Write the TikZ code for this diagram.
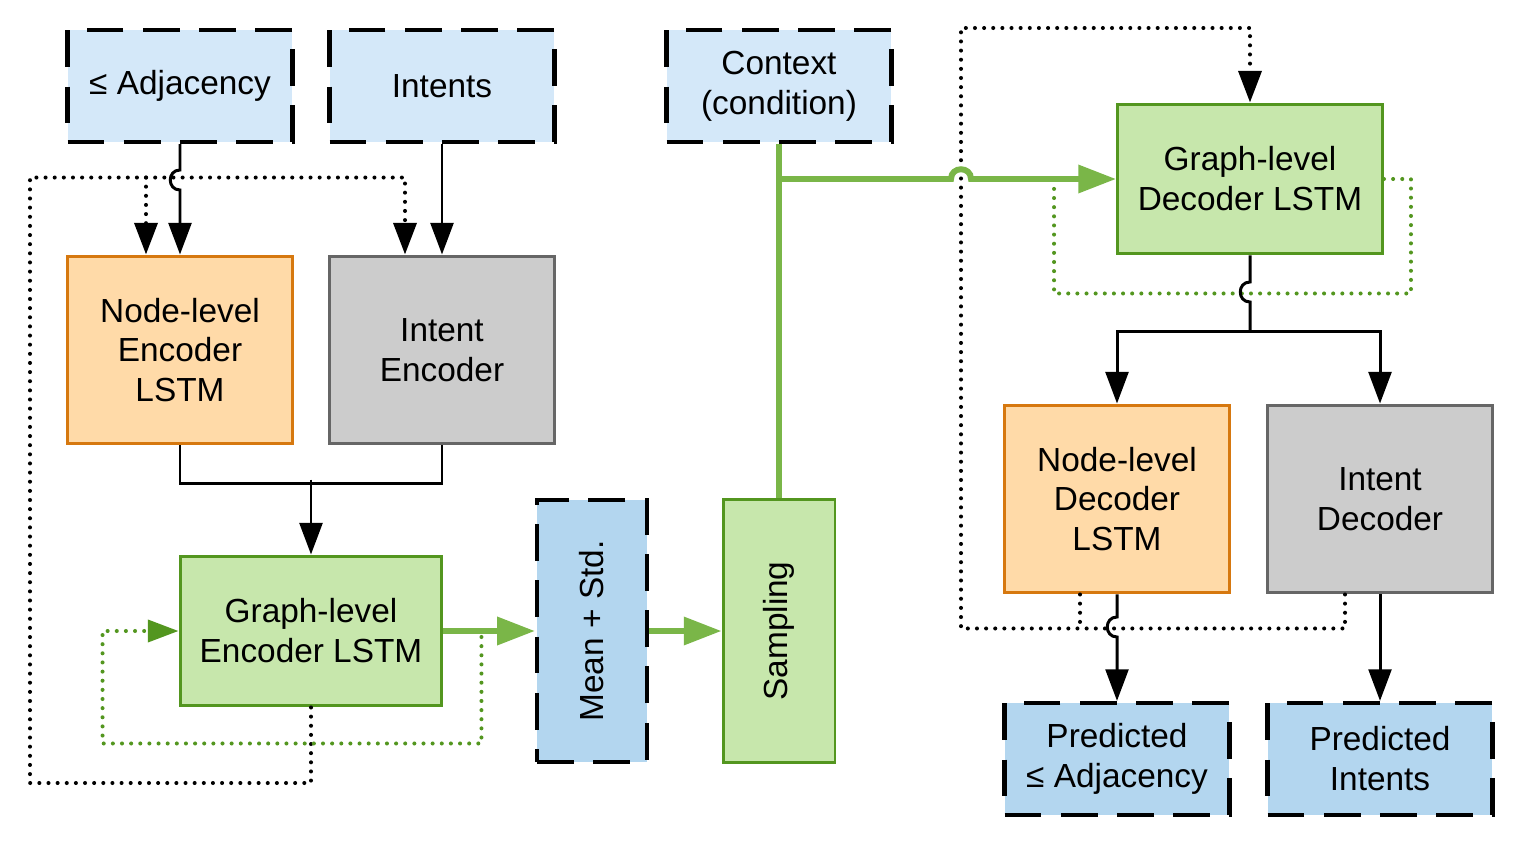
\documentclass[tikz,border=0pt]{standalone}
\usepackage{fontspec}
\setmainfont{Liberation Sans}
\usetikzlibrary{arrows.meta,calc}

\definecolor{inblue}{HTML}{D4E8F9}
\definecolor{outblue}{HTML}{B3D6EF}
\definecolor{orfill}{HTML}{FFDAA8}
\definecolor{ordraw}{HTML}{D6780F}
\definecolor{gyfill}{HTML}{CCCCCC}
\definecolor{gydraw}{HTML}{666666}
\definecolor{grfill}{HTML}{C7E7AC}
\definecolor{grdraw}{HTML}{53961F}
\definecolor{grline}{HTML}{7AB648}

\begin{document}
\begin{tikzpicture}[
  x=0.02cm, y=-0.02cm,
  every node/.style={font=\fontsize{19}{22.7}\selectfont, align=center, inner sep=2pt},
  box/.style={rectangle, line width=1.7pt, minimum width=4.5cm, minimum height=2.24cm},
  inbox/.style={box, draw=black, fill=inblue, line width=2.4pt, dash pattern=on 21pt off 11pt},
  outbox/.style={inbox, fill=outblue},
  orbox/.style={box, draw=ordraw, fill=orfill, minimum height=3.76cm},
  gybox/.style={box, draw=gydraw, fill=gyfill, minimum height=3.76cm},
  grbox/.style={box, draw=grdraw, fill=grfill, minimum width=5.3cm, minimum height=3cm},
  kline/.style={line width=1.7pt, -{Triangle[width=13pt,length=18pt]}},
  kdot/.style={line width=2.3pt, line cap=round, dash pattern=on 0pt off 5.2pt,
    -{Triangle[width=13pt,length=18pt]}},
  gdot/.style={draw=grdraw, line width=2.3pt, line cap=round, dash pattern=on 0pt off 5.2pt,
    -{Triangle[width=12.5pt,length=17.5pt, fill=grdraw]}},
  garrow/.style={draw=grline, line width=3.4pt, -{Triangle[width=15.5pt,length=21.5pt]}},
  vhop/.style={insert path={-- ($(#1)+(0,-10)$) .. controls ($(#1)+(-13,-10)$) and ($(#1)+(-13,10)$) .. ($(#1)+(0,10)$)}},
  hhop/.style={insert path={-- ($(#1)+(-10,0)$) .. controls ($(#1)+(-10,-13)$) and ($(#1)+(10,-13)$) .. ($(#1)+(10,0)$)}}
]
  \useasboundingbox (0,0) rectangle (1528,848);

  %--- inputs
  \node[inbox] (adj) at (180,86)  {≤ Adjacency};
  \node[inbox] (int) at (442,86)  {Intents};
  \node[inbox] (ctx) at (779,86)  {Context\\(condition)};

  %--- encoder
  \node[orbox] (nenc) at (180,350) {Node-level\\Encoder\\LSTM};
  \node[gybox] (ienc) at (442,350) {Intent\\Encoder};
  \node[grbox, minimum width=5.24cm] (genc) at (311,631) {Graph-level\\Encoder LSTM};

  %--- latent
  \node[outbox, minimum width=2.2cm, minimum height=5.24cm] (mean) at (592,631) {};
  \node[rotate=90] (meantxt) at (mean.center) {Mean + Std.};
  \node[grbox, minimum width=2.24cm, minimum height=5.26cm] (samp) at (779,631) {};
  \node[rotate=90] (samptxt) at (samp.center) {Sampling};

  %--- decoder
  \node[grbox] (gdec) at (1250,179) {Graph-level\\Decoder LSTM};
  \node[orbox] (ndec) at (1117,499) {Node-level\\Decoder\\LSTM};
  \node[gybox] (idec) at (1380,499) {Intent\\Decoder};

  %--- outputs
  \node[outbox] (padj) at (1117,759) {Predicted\\≤ Adjacency};
  \node[outbox] (pint) at (1380,759) {Predicted\\Intents};

  %--- helper points
  \coordinate (h1) at (180,180);
  \coordinate (h2) at (961,179);
  \coordinate (h3) at (1250,292);
  \coordinate (h4) at (1117,627);
  \coordinate (encloop) at (30,783);
  \coordinate (decloop) at (961,28);
  \coordinate (emerge) at ($(genc.north)+(0,-75)$);
  \coordinate (dsplit) at ($(gdec.south)+(0,76)$);
  \coordinate (cbranch) at (samp.north |- gdec.west);

  %============ ENCODER ============%
  \draw[kdot] (genc.south) |- (encloop) |- ($(ienc.north)+(-37,-77)$) -- ($(ienc.north)+(-37,0)$);
  \draw[kdot] ($(nenc.north)+(-34,-77)$) -- ($(nenc.north)+(-34,0)$);
  \draw[kline] (adj.south) [vhop=h1] -- (nenc.north);
  \draw[kline] (int.south) -- (ienc.north);
  \draw[line width=1.7pt] (nenc.south) |- ($(ienc.south)+(0,38)$) -- (ienc.south);
  \draw[kline] (emerge) -- (genc.north);
  \draw[gdot] ($(genc.east)+(38,6)$) |- ($(genc.south west)+(-76,36)$) |- (genc.west);
  \draw[garrow] (genc.east) -- (mean.west);
  \draw[garrow] (mean.east) -- (samp.west);

  %============ DECODER ============%
  \draw[grline, line width=3.4pt] (samp.north) -- (ctx.south);
  \draw[kdot] ($(ndec.south)+(-37,0)$) -- ++(0,34) -| (decloop) -| (gdec.north);
  \draw[kdot, -] ($(idec.south)+(-35,0)$) |- ($(ndec.south)+(-37,34)$);
  \draw[garrow] (cbranch) [hhop=h2] -- (gdec.west);
  \draw[gdot, -] (gdec.east) -| ($(gdec.south east)+(27,38)$) -| ($(gdec.west)+(-62,5)$);
  \draw[line width=1.7pt] (gdec.south) [vhop=h3] -- (dsplit);
  \draw[kline] (dsplit) -| (ndec.north);
  \draw[kline] (dsplit) -| (idec.north);
  \draw[kline] (ndec.south) [vhop=h4] -- (padj.north);
  \draw[kline] (idec.south) -- (pint.north);

\end{tikzpicture}
\end{document}
